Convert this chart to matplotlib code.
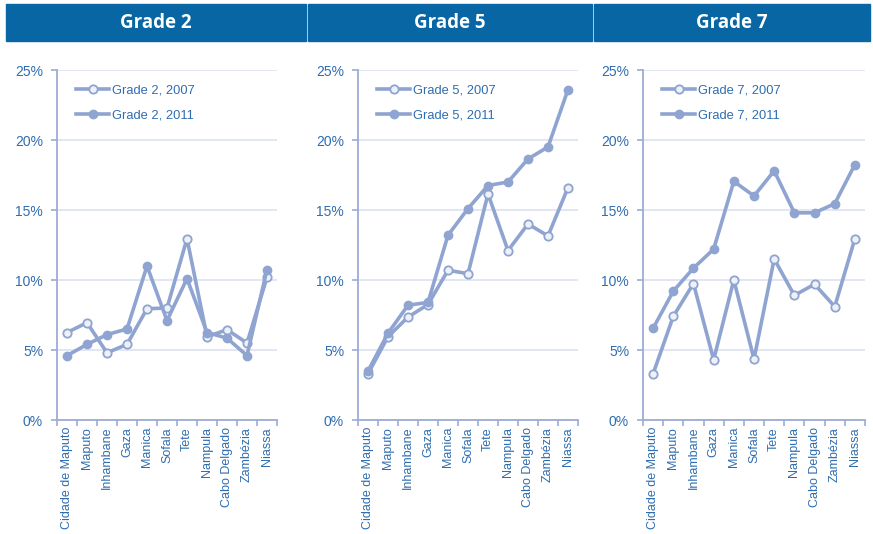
import matplotlib
matplotlib.use("Agg")
import matplotlib.pyplot as plt
from matplotlib.patches import Rectangle
from matplotlib.ticker import FuncFormatter, FixedLocator

provinces = ["Cidade de Maputo", "Maputo", "Inhambane", "Gaza", "Manica", "Sofala",
             "Tete", "Nampula", "Cabo Delgado", "Zambézia", "Niassa"]

grade2_2007 = [6.25, 6.95, 4.8, 5.4, 7.95, 8.0, 12.95, 5.95, 6.45, 5.5, 10.2]
grade2_2011 = [4.6, 5.4, 6.1, 6.5, 11.0, 7.1, 10.1, 6.25, 5.85, 4.6, 10.75]
grade5_2007 = [3.3, 5.95, 7.35, 8.25, 10.7, 10.45, 16.15, 12.1, 14.0, 13.15, 16.6]
grade5_2011 = [3.5, 6.2, 8.2, 8.4, 13.2, 15.1, 16.75, 17.0, 18.65, 19.5, 23.6]
grade7_2007 = [3.3, 7.4, 9.75, 4.3, 10.0, 4.35, 11.5, 8.9, 9.7, 8.1, 12.95]
grade7_2011 = [6.55, 9.2, 10.85, 12.2, 17.05, 16.0, 17.8, 14.8, 14.8, 15.45, 18.25]

panels = [
    ("Grade 2", grade2_2007, grade2_2011),
    ("Grade 5", grade5_2007, grade5_2011),
    ("Grade 7", grade7_2007, grade7_2011),
]

W, H = 873, 534
line_c = "#8fa4d0"
text_c = "#2f6db0"
grid_c = "#dfe4f1"
spine_c = "#9dacd6"
head_c = "#0766a3"

plt.rcParams["font.family"] = ["Liberation Sans", "DejaVu Sans"]

fig = plt.figure(figsize=(W / 100, H / 100), dpi=100)

# header bars and axes boxes, in pixels
heads = [(6, 306), (308, 592), (594, 870)]
axes_px = [(57, 277), (358, 578), (643, 865)]

for (title, s07, s11), (hx0, hx1), (ax0, ax1) in zip(panels, heads, axes_px):
    fig.patches.append(Rectangle((hx0 / W, 1 - 41 / H), (hx1 - hx0) / W, 37 / H,
                                 transform=fig.transFigure, color=head_c, zorder=0))
    fig.text((hx0 + hx1) / 2 / W, 1 - 23 / H, title, color="white", fontsize=13.5,
             fontweight="bold", ha="center", va="center", family=["Open Sans", "DejaVu Sans"])

    ax = fig.add_axes([ax0 / W, 1 - 420 / H, (ax1 - ax0) / W, 350 / H])
    x = list(range(len(provinces)))
    yr = title.split()[1]
    ax.plot(x, s07, color=line_c, lw=2.6, marker="o", ms=6, mfc="#eef1f8",
            mec=line_c, mew=1.3, label=f"Grade {yr}, 2007", zorder=3)
    ax.plot(x, s11, color=line_c, lw=2.6, marker="o", ms=6, mfc=line_c,
            mec=line_c, label=f"Grade {yr}, 2011", zorder=4)

    ax.set_xlim(-0.5, len(provinces) - 0.5)
    ax.set_ylim(0, 25)
    ax.set_yticks([0, 5, 10, 15, 20, 25])
    ax.yaxis.set_major_formatter(FuncFormatter(lambda v, p: f"{v:.0f}%"))
    ax.set_xticks(x)
    ax.set_xticklabels(provinces, rotation=90)
    ax.xaxis.set_minor_locator(FixedLocator([i - 0.5 for i in range(len(provinces) + 1)]))
    ax.tick_params(axis="x", which="major", length=0, labelsize=9, labelcolor=text_c, pad=5)
    ax.tick_params(axis="x", which="minor", length=4, color=spine_c, width=1.2)
    ax.tick_params(axis="y", length=4, color=spine_c, width=1.2, labelsize=10,
                   labelcolor=text_c, pad=6)
    ax.grid(axis="y", color=grid_c, lw=1.3, zorder=0)
    ax.set_axisbelow(True)
    for s in ("top", "right"):
        ax.spines[s].set_visible(False)
    for s in ("left", "bottom"):
        ax.spines[s].set_color(spine_c)
        ax.spines[s].set_linewidth(1.3)

    leg = ax.legend(loc="upper left", bbox_to_anchor=(0.05, 0.98), frameon=False,
                    fontsize=9.3, handlelength=2.6, handletextpad=0.2,
                    labelspacing=0.95, borderaxespad=0.2)
    for t in leg.get_texts():
        t.set_color(text_c)

fig.savefig("out.png", dpi=100)
